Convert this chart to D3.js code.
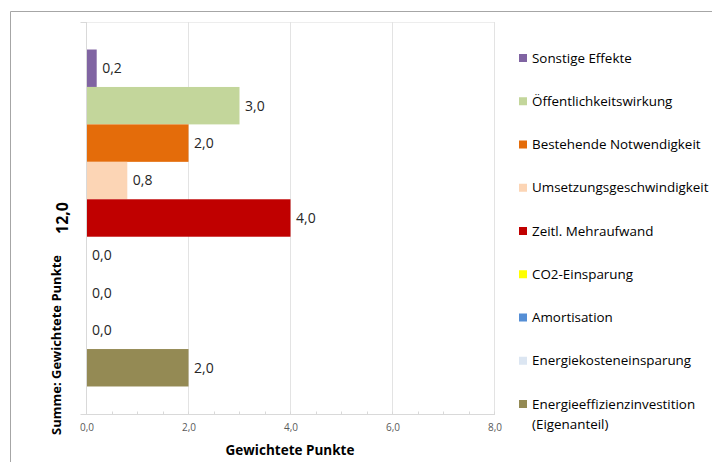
<!DOCTYPE html>
<html>
<head>
<meta charset="utf-8">
<script src="https://cdn.jsdelivr.net/npm/d3@7"></script>
<style>
  html, body { margin: 0; padding: 0; background: #fff; }
  svg { display: block; font-family: "Open Sans", "DejaVu Sans", sans-serif; }
</style>
</head>
<body>
<svg id="chart" width="712" height="462"></svg>
<script>
// Series of the pivot chart (one category, one bar per series)
const seriesNames = [
  "Sonstige Effekte",
  "Öffentlichkeitswirkung",
  "Bestehende Notwendigkeit",
  "Umsetzungsgeschwindigkeit",
  "Zeitl. Mehraufwand",
  "CO2-Einsparung",
  "Amortisation",
  "Energiekosteneinsparung",
  "Energieeffizienzinvestition (Eigenanteil)"
];
const seriesValues = [0.2, 3.0, 2.0, 0.8, 4.0, 0.0, 0.0, 0.0, 2.0];
const seriesColors = [
  "#8064A2", "#C3D69B", "#E46C0A", "#FCD5B5", "#C00000",
  "#FFFF00", "#558ED5", "#DCE6F2", "#948A54"
];
const categoryLabel = "12,0";
const xTicks = [0, 2, 4, 6, 8];
const xMinorTicks = [0.5, 1, 1.5, 2.5, 3, 3.5, 4.5, 5, 5.5, 6.5, 7, 7.5];
const xTitle = "Gewichtete Punkte";
const yTitle = "Summe: Gewichtete Punkte";

const fmt = v => v.toFixed(1).replace(".", ",");

const svg = d3.select("#chart");

// outer chart frame
svg.append("path")
  .attr("d", "M10.5,462 V11.5 H712")
  .attr("fill", "none").attr("stroke", "#a6a6a6").attr("stroke-width", 1);

const plot = { left: 86, right: 494, top: 22, bottom: 414 };

const x = d3.scaleLinear().domain([0, 8]).range([plot.left, plot.right]);
const yCat = d3.scaleBand().domain([categoryLabel]).range([plot.top, plot.bottom]);
const ySeries = d3.scaleBand().domain(seriesNames)
  .range([yCat(categoryLabel), yCat(categoryLabel) + yCat.bandwidth()])
  .paddingOuter(0.735).paddingInner(0);

// plot area border
svg.append("rect")
  .attr("x", plot.left + 0.5).attr("y", plot.top + 0.5)
  .attr("width", plot.right - plot.left).attr("height", plot.bottom - plot.top)
  .attr("fill", "none").attr("stroke", "#ededed");

// vertical gridlines
svg.append("g")
  .selectAll("line").data(xTicks.slice(1))
  .join("line")
  .attr("x1", d => Math.round(x(d)) + 0.5).attr("x2", d => Math.round(x(d)) + 0.5)
  .attr("y1", plot.top).attr("y2", plot.bottom)
  .attr("stroke", "#e3e3e3");

// bars
svg.append("g")
  .selectAll("rect").data(seriesNames)
  .join("rect")
  .attr("x", x(0) + 0.5)
  .attr("y", d => ySeries(d))
  .attr("width", (d, i) => Math.max(0, x(seriesValues[i]) - x(0)))
  .attr("height", ySeries.bandwidth())
  .attr("fill", (d, i) => seriesColors[i]);

// value labels
svg.append("g")
  .selectAll("text").data(seriesNames)
  .join("text")
  .attr("x", (d, i) => x(seriesValues[i]) + 6)
  .attr("y", d => ySeries(d) + ySeries.bandwidth() / 2)
  .attr("dy", "0.35em")
  .attr("font-size", 14)
  .attr("fill", "#262626")
  .text((d, i) => fmt(seriesValues[i]));

// category (y) axis
const yAxis = svg.append("g").attr("transform", `translate(${plot.left + 0.5},0)`);
yAxis.append("line").attr("y1", plot.top).attr("y2", plot.bottom + 0.5).attr("stroke", "#d9d9d9");
yAxis.selectAll("line.tick").data([plot.top + 0.5, plot.bottom + 0.5])
  .join("line").attr("class", "tick")
  .attr("x1", -6).attr("x2", 0).attr("y1", d => d).attr("y2", d => d)
  .attr("stroke", "#d9d9d9");
yAxis.append("text")
  .attr("transform", `translate(-19,${yCat(categoryLabel) + yCat.bandwidth() / 2}) rotate(-90)`)
  .attr("text-anchor", "middle")
  .attr("font-size", 16).attr("font-weight", "bold").attr("fill", "#000")
  .text(categoryLabel);

// value (x) axis
const xAxis = svg.append("g").attr("transform", `translate(0,${plot.bottom + 0.5})`);
xAxis.append("line").attr("x1", plot.left).attr("x2", plot.right + 1).attr("stroke", "#d9d9d9");
xAxis.selectAll("line.minor").data(xMinorTicks.concat(xTicks))
  .join("line").attr("class", "minor")
  .attr("x1", d => Math.round(x(d)) + 0.5).attr("x2", d => Math.round(x(d)) + 0.5)
  .attr("y1", -3).attr("y2", 0).attr("stroke", "#d9d9d9");
xAxis.selectAll("text.tick").data(xTicks)
  .join("text").attr("class", "tick")
  .attr("x", d => x(d) + 1).attr("y", 16)
  .attr("text-anchor", "middle")
  .attr("font-size", 10).attr("fill", "#595959")
  .text(fmt);

// axis titles
svg.append("text")
  .attr("x", 290).attr("y", 455)
  .attr("text-anchor", "middle")
  .attr("font-size", 13.5).attr("font-weight", "bold").attr("fill", "#000")
  .text(xTitle);
svg.append("text")
  .attr("transform", "translate(61,345) rotate(-90)")
  .attr("text-anchor", "middle")
  .attr("font-size", 13).attr("font-weight", "bold").attr("fill", "#000")
  .text(yTitle);

// legend
const legendY = d3.scalePoint().domain(seriesNames).range([58, 404]);
const legend = svg.append("g");
const item = legend.selectAll("g").data(seriesNames).join("g")
  .attr("transform", d => `translate(519,${legendY(d)})`);
item.append("rect")
  .attr("x", 0).attr("y", -4).attr("width", 8).attr("height", 8)
  .attr("fill", (d, i) => seriesColors[i]);
item.append("text")
  .attr("x", 13).attr("y", 0).attr("dy", "0.35em")
  .attr("font-size", 13.4).attr("fill", "#000")
  .each(function (d) {
    const parts = d.split(" (");
    const t = d3.select(this);
    if (parts.length > 1) {
      t.append("tspan").attr("x", 13).text(parts[0]);
      t.append("tspan").attr("x", 13).attr("dy", 20).text("(" + parts[1]);
    } else {
      t.text(d);
    }
  });
</script>
</body>
</html>
